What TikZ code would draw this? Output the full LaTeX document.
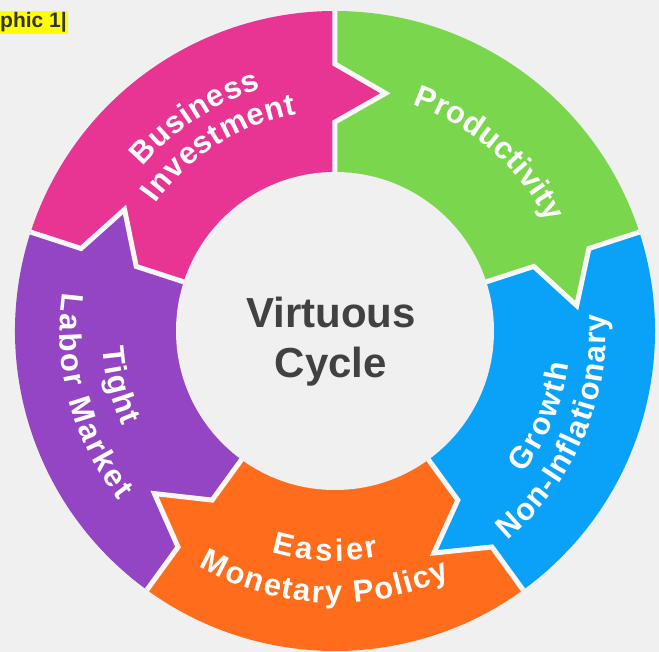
\documentclass[tikz,border=0pt]{standalone}
\usepackage{fontspec}
\setmainfont{Liberation Sans}
\usetikzlibrary{decorations.text}
\definecolor{bgc}{HTML}{F0F0F0}
\definecolor{cpink}{HTML}{E83492}
\definecolor{cgreen}{HTML}{7AD74D}
\definecolor{cblue}{HTML}{0AA2F8}
\definecolor{corange}{HTML}{FF6C1C}
\definecolor{cpurple}{HTML}{9345C3}
\definecolor{ctext}{HTML}{414141}
\definecolor{cgap}{HTML}{F8F8F8}
\definecolor{ctag}{HTML}{FFFF00}
\newcommand{\lblfont}{\bfseries\fontsize{31}{33}\selectfont}
% #1 = clockwise boundary angle, #2 = colour
\newcommand{\ringseg}[2]{%
  \fill[#2] ({#1+72}:150pt) -- ({#1+72}:209pt) -- ({#1+60}:243pt) -- ({#1+72}:267pt)
    -- ({#1+72}:320pt) arc[start angle={#1+72}, end angle={#1}, radius=320pt]
    -- ({#1}:267pt) -- ({#1-12}:243pt) -- ({#1}:209pt) -- ({#1}:150pt)
    arc[start angle={#1}, end angle={#1+72}, radius=150pt] -- cycle;}
\newcommand{\ringgap}[1]{%
  \draw[gapline] ({#1}:330pt) -- ({#1}:267pt) -- ({#1-12}:243pt) -- ({#1}:209pt) -- ({#1}:150pt);}
% start angle, end angle, baseline radius, text
\newcommand{\arclabel}[4]{%
  \path[decorate, decoration={text along path, text color=white,
      text align={fit to path}, text={|\lblfont|#4}}]
    ({#1}:#3pt) arc[start angle={#1}, end angle={#2}, radius=#3pt];}
\tikzset{
  gapline/.style={draw=cgap, line width=5pt, line join=miter},
  centretext/.style={font=\bfseries\fontsize{42}{50}\selectfont, text=ctext, anchor=base, inner sep=0pt},
}
\begin{document}
\begin{tikzpicture}[x=1pt,y=1pt]
\useasboundingbox (-335pt,-321pt) rectangle (324pt,331pt);
\fill[bgc] (-335pt,-321pt) rectangle (324pt,331pt);
% ring segments
\ringseg{90}{cpink}
\ringseg{18}{cgreen}
\ringseg{-54}{cblue}
\ringseg{-126}{corange}
\ringseg{-198}{cpurple}
% gaps
\begin{scope}
  \clip (0,0) circle (320pt);
  \ringgap{90}
  \ringgap{18}
  \ringgap{-54}
  \ringgap{-126}
  \ringgap{162}
\end{scope}
% inner disc
\fill[bgc] (0,0) circle (159pt);
\node[centretext] (vt1) at (-4pt,3pt) {Virtuous};
\node[centretext] (vt2) at (-4pt,-47pt) {Cycle};
% labels
\arclabel{139.5}{107}{253}{Business}
\arclabel{144.5}{100}{220}{Investment}
\arclabel{71}{27}{239}{Productivity}
\arclabel{-37}{-8}{236}{Growth}
\arclabel{-50.5}{3.5}{271}{Non-Inflationary}
\arclabel{-106}{-79}{230}{Easier}
\arclabel{-120}{-65}{272}{Monetary Policy}
\arclabel{184}{204}{233}{Tight}
\arclabel{172}{218}{275}{Labor Market}
% tag
\node[fill=ctag, text=black!80, font=\bfseries\fontsize{21}{21}\selectfont,
      anchor=east, inner xsep=1pt, inner ysep=2pt] (tag) at (-267pt,308.5pt) {phic 1|};
\end{tikzpicture}
\end{document}
